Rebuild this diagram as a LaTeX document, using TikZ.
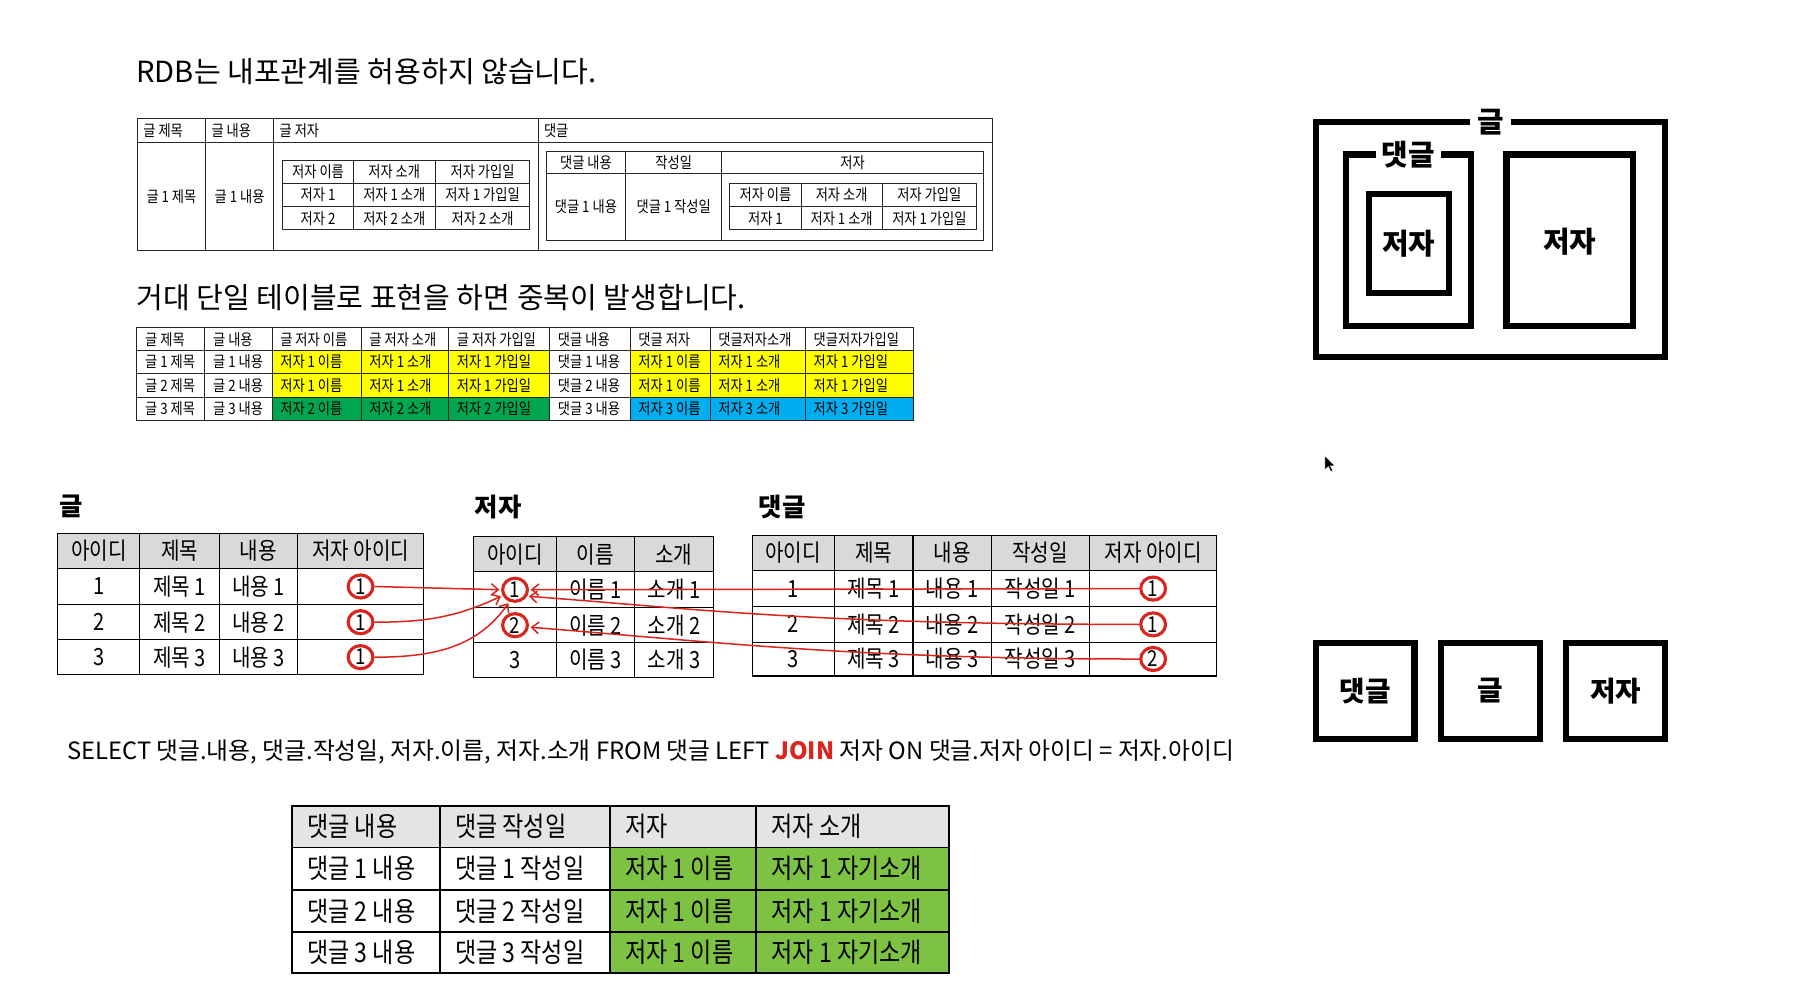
\documentclass[tikz,border=0pt]{standalone}
\usepackage{fontspec}
\setmainfont{Noto Sans CJK KR}
\newfontfamily\cond[FakeStretch=0.85]{Noto Sans CJK KR}
\usetikzlibrary{arrows.meta,shapes.geometric}
\definecolor{redc}{HTML}{D9251D}
\definecolor{hdrgray}{HTML}{D9D9D9}
\definecolor{yel}{HTML}{FFFF00}
\definecolor{grn}{HTML}{00A550}
\definecolor{blu}{HTML}{00AEEF}
\definecolor{lgreen}{HTML}{7DC243}
\definecolor{rgray}{HTML}{E4E4E4}
\newcommand\trow[5]{%
  \foreach \t [count=\c] in {#5}{%
    \pgfmathsetmacro\cx{{#4}[\c-1]}%
    \node[#2] (#1-\c) at (\cx,#3) {\t};}}
\begin{document}
\begin{tikzpicture}[x=1pt,y=-1pt,
  every node/.style={inner sep=0pt},
  ttl/.style={anchor=west, font=\fontsize{25.2}{30}\selectfont},
  sect/.style={anchor=west, font=\bfseries\fontsize{22}{26}\selectfont},
  txs/.style={font=\cond\fontsize{13.5}{16}\selectfont},
  txsw/.style={txs, anchor=west},
  txm/.style={font=\cond\fontsize{20.5}{24}\selectfont},
  txb/.style={font=\cond\fontsize{23.5}{28}\selectfont, anchor=west},
  sline/.style={draw=black!85, line width=0.8pt},
  mline/.style={draw=black, line width=0.9pt},
  rline/.style={draw=black, line width=1.5pt},
  idc/.style={ellipse, draw=redc, line width=2.7pt, minimum width=21.5pt, minimum height=20pt, inner sep=0pt, font=\cond\fontsize{19}{21}\selectfont},
  fk/.style={draw=redc, line width=1.3pt, shorten >=1.5pt, -{Straight Barb[length=6pt,width=10pt]}},
  heavy/.style={draw=black, line width=5.5pt, rectangle, inner sep=0pt},
  boxlbl/.style={font=\bfseries\fontsize{25}{30}\selectfont},
  boxlbltwo/.style={font=\bfseries\fontsize{24}{28}\selectfont},
]
\fill[white] (0,0) rectangle (1566,849.7);
\useasboundingbox (0,0) rectangle (1566,849.7);

% ---------- titles
\node[ttl] (title1) at (118,62) {RDB는 내포관계를 허용하지 않습니다.};
\node[ttl] (title2) at (118,258) {거대 단일 테이블로 표현을 하면 중복이 발생합니다.};

% ---------- table 1 (nested)
\draw[sline] (119,103) rectangle (860,217);
\draw[sline] (119,123) -- (860,123);
\foreach \x in {178,237,466} \draw[sline] (\x,103) -- (\x,217);
\node[txsw] (t1h1) at (124,113) {글 제목};
\node[txsw] (t1h2) at (183,113) {글 내용};
\node[txsw] (t1h3) at (242,113) {글 저자};
\node[txsw] (t1h4) at (471,113) {댓글};
\node[txs] (t1d1) at (148.5,170) {글 1 제목};
\node[txs] (t1d2) at (207.5,170) {글 1 내용};
\draw[sline] (245,139) rectangle (459,199);
\foreach \y in {159,179} \draw[sline] (245,\y) -- (459,\y);
\foreach \x in {306,377} \draw[sline] (\x,139) -- (\x,199);
\trow{gaA}{txs}{149}{275.5,341.5,418}{저자 이름,저자 소개,저자 가입일}
\trow{gaB}{txs}{169}{275.5,341.5,418}{저자 1,저자 1 소개,저자 1 가입일}
\trow{gaC}{txs}{189}{275.5,341.5,418}{저자 2,저자 2 소개,저자 2 소개}
\draw[sline] (473,131) rectangle (852,208);
\draw[sline] (473,150) -- (852,150);
\foreach \x in {542,625} \draw[sline] (\x,131) -- (\x,208);
\trow{chd}{txs}{140.5}{507.5,583.5,738.5}{댓글 내용,작성일,저자}
\node[txs] (cd1) at (507.5,179) {댓글 1 내용};
\node[txs] (cd2) at (583.5,179) {댓글 1 작성일};
\draw[sline] (632,159) rectangle (846,199);
\draw[sline] (632,179) -- (846,179);
\foreach \x in {694,764} \draw[sline] (\x,159) -- (\x,199);
\trow{caA}{txs}{169}{663,729,805}{저자 이름,저자 소개,저자 가입일}
\trow{caB}{txs}{189}{663,729,805}{저자 1,저자 1 소개,저자 1 가입일}

% ---------- table 2 (single big table)
\fill[yel] (235.6,303.6) rectangle (476.1,344.1);
\fill[yel] (545.8,303.6) rectangle (790.8,344.1);
\fill[grn] (235.6,344.1) rectangle (476.1,364);
\fill[blu] (545.8,344.1) rectangle (790.8,364);
\draw[sline] (118.6,284) rectangle (790.8,364);
\foreach \y in {303.6,323.7,344.1} \draw[sline] (118.6,\y) -- (790.8,\y);
\foreach \x in {177.4,235.6,312.8,388.5,476.1,545.8,615,697.6} \draw[sline] (\x,284) -- (\x,364);
\trow{tbA}{txsw}{294}{125.6,184.4,242.6,319.8,395.5,483.1,552.8,622,704.6}{글 제목,글 내용,글 저자 이름,글 저자 소개,글 저자 가입일,댓글 내용,댓글 저자,댓글저자소개,댓글저자가입일}
\trow{tbB}{txsw}{313.6}{125.6,184.4,242.6,319.8,395.5,483.1,552.8,622,704.6}{글 1 제목,글 1 내용,저자 1 이름,저자 1 소개,저자 1 가입일,댓글 1 내용,저자 1 이름,저자 1 소개,저자 1 가입일}
\trow{tbC}{txsw}{333.9}{125.6,184.4,242.6,319.8,395.5,483.1,552.8,622,704.6}{글 2 제목,글 2 내용,저자 1 이름,저자 1 소개,저자 1 가입일,댓글 2 내용,저자 1 이름,저자 1 소개,저자 1 가입일}
\trow{tbD}{txsw}{354}{125.6,184.4,242.6,319.8,395.5,483.1,552.8,622,704.6}{글 3 제목,글 3 내용,저자 2 이름,저자 2 소개,저자 2 가입일,댓글 3 내용,저자 3 이름,저자 3 소개,저자 3 가입일}

% ---------- section titles
\node[sect] (s1) at (51,439) {글};
\node[sect] (s2) at (411,439) {저자};
\node[sect] (s3) at (657,439) {댓글};

% ---------- 글 table
\fill[hdrgray] (50,462) rectangle (367,492.6);
\draw[mline] (50,462) rectangle (367,584);
\foreach \y in {492.6,523.4,554.3} \draw[mline] (50,\y) -- (367,\y);
\foreach \x in {121.1,190,257.6} \draw[mline] (\x,462) -- (\x,584);
\trow{gh}{txm}{477.3}{85.6,155.6,223.8,312.3}{아이디,제목,내용,저자 아이디}
\trow{gA}{txm}{508}{85.6,155.6,223.8}{1,제목 1,내용 1}
\trow{gB}{txm}{538.9}{85.6,155.6,223.8}{2,제목 2,내용 2}
\trow{gC}{txm}{569.2}{85.6,155.6,223.8}{3,제목 3,내용 3}
\node[idc] (G1) at (312.3,508) {1};
\node[idc] (G2) at (312.3,538.9) {1};
\node[idc] (G3) at (312.3,569.2) {1};

% ---------- 저자 table
\fill[hdrgray] (410.3,464.9) rectangle (617.9,495.2);
\draw[mline] (410.3,464.9) rectangle (617.9,586.4);
\foreach \y in {495.2,526.3,556.6} \draw[mline] (410.3,\y) -- (617.9,\y);
\foreach \x in {481.8,549.5} \draw[mline] (\x,464.9) -- (\x,586.4);
\trow{ah}{txm}{480.1}{446.1,515.7,583.7}{아이디,이름,소개}
\node[txm] (aA2) at (515.7,510.8) {이름 1};
\node[txm] (aA3) at (583.7,510.8) {소개 1};
\node[txm] (aB2) at (515.7,541.5) {이름 2};
\node[txm] (aB3) at (583.7,541.5) {소개 2};
\trow{aC}{txm}{571.5}{446.1,515.7,583.7}{3,이름 3,소개 3}
\node[idc] (A1) at (446.1,510.8) {1};
\node[idc] (A2) at (446.1,541.5) {2};

% ---------- 댓글 table
\fill[hdrgray] (651.4,463.8) rectangle (1054,494.1);
\draw[mline] (651.4,463.8) rectangle (1054,585.5);
\foreach \y in {494.1,525.5,556.1} \draw[mline] (651.4,\y) -- (1054,\y);
\foreach \x in {722.6,790.8,858.5,943.5} \draw[mline] (\x,463.8) -- (\x,585.5);
\trow{ch}{txm}{479}{687,756.7,824.7,901,998.8}{아이디,제목,내용,작성일,저자 아이디}
\trow{cA}{txm}{509.8}{687,756.7,824.7,901}{1,제목 1,내용 1,작성일 1}
\trow{cB}{txm}{540.8}{687,756.7,824.7,901}{2,제목 2,내용 2,작성일 2}
\trow{cC}{txm}{570.8}{687,756.7,824.7,901}{3,제목 3,내용 3,작성일 3}
\node[idc] (C1) at (998.8,509.8) {1};
\node[idc] (C2) at (998.8,540.8) {1};
\node[idc] (C3) at (998.8,570.8) {2};

% ---------- foreign key arrows
\draw[fk] (G1.east) -- (A1.west);
\draw[fk] (G2.east) to[out=0,in=205] (A1.205);
\draw[fk] (G3.east) to[out=0,in=235] (A1.245);
\draw[fk] (C1.west) -- (A1.east);
\draw[fk] (C2.west) .. controls (700,540.8) and (600,527) .. (A1.-28);
\draw[fk] (C3.west) .. controls (740,570.8) and (620,556) .. (A2.-8);

% ---------- SQL
\node[anchor=west, font=\fontsize{20.6}{24}\selectfont] (sql) at (58,651) {SELECT 댓글.내용, 댓글.작성일, 저자.이름, 저자.소개 FROM 댓글 LEFT {\bfseries\color{redc}JOIN} 저자 ON 댓글.저자 아이디 = 저자.아이디};

% ---------- result table
\fill[rgray] (253,698) rectangle (822,734);
\fill[lgreen] (528.5,734) rectangle (822,843);
\draw[rline] (253,698) rectangle (822,843);
\foreach \y in {734,771,807} \draw[rline] (253,\y) -- (822,\y);
\foreach \x in {381,528.5,655} \draw[rline] (\x,698) -- (\x,843);
\trow{rh}{txb}{716}{266,394,541.5,668}{댓글 내용,댓글 작성일,저자,저자 소개}
\trow{rA}{txb}{752.5}{266,394,541.5,668}{댓글 1 내용,댓글 1 작성일,저자 1 이름,저자 1 자기소개}
\trow{rB}{txb}{789}{266,394,541.5,668}{댓글 2 내용,댓글 2 작성일,저자 1 이름,저자 1 자기소개}
\trow{rC}{txb}{825}{266,394,541.5,668}{댓글 3 내용,댓글 3 작성일,저자 1 이름,저자 1 자기소개}

% ---------- nested boxes diagram
\node[heavy, minimum width=302.5pt, minimum height=203.5pt] (nOuter) at (1291,207.5) {};
\node[heavy, minimum width=108.5pt, minimum height=148.5pt] (nCom) at (1220,208) {};
\node[heavy, minimum width=69.5pt, minimum height=85.5pt] (nAutIn) at (1220.3,210.8) {};
\node[heavy, minimum width=109.5pt, minimum height=148.5pt] (nAutR) at (1359.5,208) {};
\node[boxlbl, fill=white, inner xsep=6pt] (lOuter) at (1291,106) {글};
\node[boxlbl, fill=white, inner xsep=5pt] (lCom) at (1220,134) {댓글};
\node[boxlbl] (lAutIn) at (1220.3,211) {저자};
\node[boxlbl] (lAutR) at (1359.5,209) {저자};

% ---------- three separate boxes
\node[heavy, boxlbltwo, minimum width=85.5pt, minimum height=83.5pt] (bCom) at (1182.5,598.5) {댓글};
\node[heavy, boxlbltwo, minimum width=85.5pt, minimum height=83.5pt] (bPost) at (1290.9,598.5) {글};
\node[heavy, boxlbltwo, minimum width=85.5pt, minimum height=83.5pt] (bAut) at (1399.3,598.5) {저자};

% ---------- mouse pointer
\fill[black, draw=white, line width=0.5pt] (1147.5,394.5) -- ++(0,12.5) -- ++(3,-2.8) -- ++(2.2,4.5) -- ++(1.8,-0.8) -- ++(-2.1,-4.3) -- ++(4,0) -- cycle;
\end{tikzpicture}
\end{document}
